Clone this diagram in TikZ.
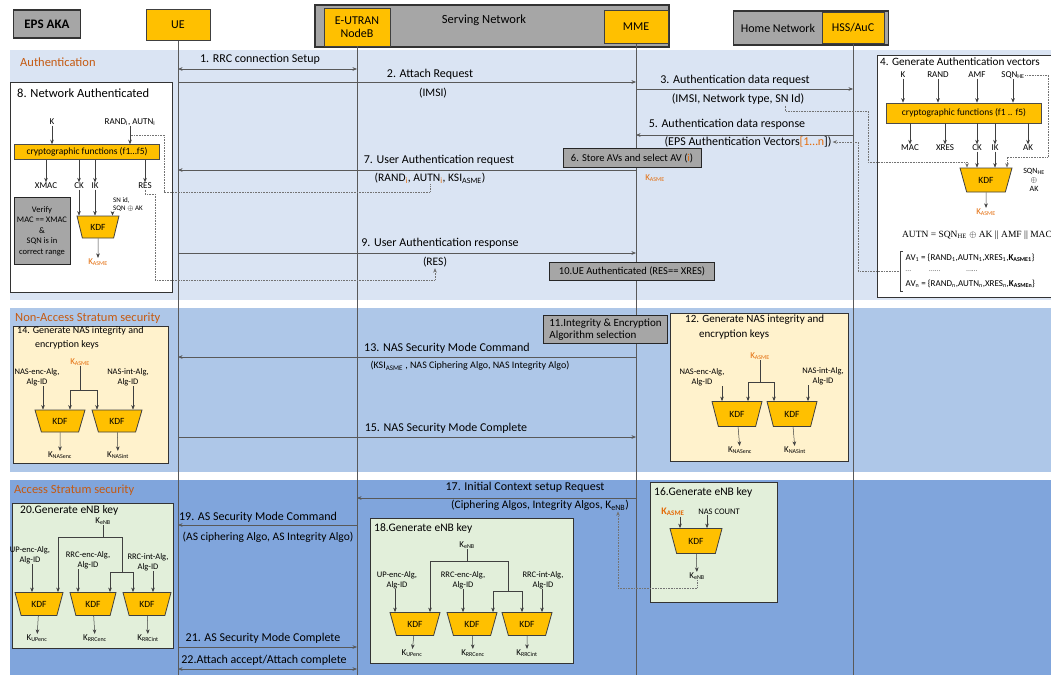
\documentclass[tikz,border=0pt]{standalone}
\usepackage{fontspec}
\setmainfont{Carlito}
\newfontfamily\eqfont{Liberation Serif}
\usetikzlibrary{arrows.meta,positioning,calc,shapes.geometric}
\definecolor{amber}{HTML}{FFC000}
\definecolor{keyorange}{HTML}{E46C0A}
\definecolor{secbrown}{HTML}{C55A11}
\definecolor{hdrgray}{HTML}{A6A6A6}
\definecolor{authband}{HTML}{DAE4F3}
\definecolor{nasband}{HTML}{AEC7E8}
\definecolor{asband}{HTML}{80A5DC}
\definecolor{cream}{HTML}{FFF2CC}
\definecolor{palegreen}{HTML}{E2EFDA}
\newcommand{\ksub}[1]{K\textsubscript{#1}}
\newcommand{\kasme}{\textcolor{keyorange}{\ksub{ASME}}}

\begin{document}
\begin{tikzpicture}[x=1pt,y=-1pt,>={Stealth[length=4.5pt,width=3.6pt]},
  font=\fontsize{12}{14}\selectfont,
  actor/.style={draw=black!75,line width=0.9pt,fill=amber,minimum width=64,minimum height=31,align=center,font=\fontsize{12}{13}\selectfont},
  netgroup/.style={draw=black!80,line width=1.3pt,fill=hdrgray},
  life/.style={draw=black!65,line width=0.5pt},
  msg/.style={->,draw=black!65,line width=0.5pt},
  twoway/.style={<->,draw=black!65,line width=0.5pt},
  lbl/.style={inner sep=1pt},
  param/.style={inner sep=1pt,font=\fontsize{11.5}{13}\selectfont},
  note/.style={draw=black!85,line width=1pt,fill=hdrgray,inner sep=2pt,font=\fontsize{10.5}{12}\selectfont},
  panel/.style={draw=black!80,line width=1pt,anchor=north west,inner sep=0},
  ptitle/.style={anchor=west,inner sep=0,font=\fontsize{12.5}{14}\selectfont},
  sect/.style={anchor=west,inner sep=0,text=secbrown,font=\fontsize{12.5}{14}\selectfont},
  cf/.style={draw=black!70,fill=amber,line width=0.6pt,inner sep=0,font=\fontsize{9.5}{11}\selectfont},
  kdf/.style={trapezium,trapezium left angle=110,trapezium right angle=110,trapezium stretches=true,draw=black!75,line width=0.8pt,fill=amber,minimum width=50,minimum height=23,inner sep=1pt,font=\fontsize{9.5}{11}\selectfont},
  lab/.style={inner sep=0.5pt,font=\fontsize{9}{10}\selectfont,align=center},
  alg/.style={inner sep=0.5pt,font=\fontsize{8.5}{10}\selectfont,align=center},
  wire/.style={draw=black!75,line width=0.5pt},
  feed/.style={draw=black!55,densely dotted,line width=0.6pt}]
\useasboundingbox (0,0) rectangle (1051,675);
\fill[white] (0,0) rectangle (1051,675);
\fill[authband] (10,50) rectangle (1051,300);
\fill[nasband] (10,308) rectangle (1051,472);
\fill[asband] (10,480) rectangle (1051,675);

\node[netgroup,minimum width=67,minimum height=28,font=\bfseries\fontsize{13}{15}\selectfont] (eps) at (47,24) {EPS AKA};
\node[netgroup,minimum width=354,minimum height=42] (sn) at (492,26) {};
\node[font=\fontsize{12.5}{14}\selectfont] (snlabel) at (484,20) {Serving Network};
\node[netgroup,minimum width=155,minimum height=34] (hn) at (811,28) {};
\node[font=\fontsize{12}{14}\selectfont] (hnlabel) at (778,28) {Home Network};
\node[actor] (ue) at (178,25) {UE};
\node[actor,minimum width=66,minimum height=38] (enb) at (357,27) {E-UTRAN\\NodeB};
\node[actor,minimum height=33] (mme) at (636,27) {MME};
\node[actor,minimum width=62] (hss) at (853,28) {HSS/AuC};

\draw[life] (ue.south) -- (ue |- 0,675);
\draw[life] (enb.south) -- (enb |- 0,675);
\draw[life] (mme.south) -- (mme |- 0,675);
\draw[life] (hss.south) -- (hss |- 0,675);

\node[sect] (auth) at (20,62) {Authentication};
\node[sect] (nas) at (15,318) {Non-Access Stratum security};
\node[sect] (as) at (14,490) {Access Stratum security};

\draw[twoway] (ue |- 0,69) -- (enb |- 0,69);
\node[lbl] (l1) at (260,59) {1. RRC connection Setup};
\draw[msg] (ue |- 0,82) -- (mme |- 0,82);
\node[lbl] (l2) at (430,74) {2. Attach Request};
\node[param] (p2) at (433,93) {(IMSI)};
\draw[msg] (mme |- 0,89) -- (hss |- 0,89);
\node[lbl] (l3) at (735,80) {3. Authentication data request};
\node[lbl] (p3) at (738,99) {(IMSI, Network type, SN Id)};
\draw[msg] (hss |- 0,135) -- (mme |- 0,135);
\node[lbl] (l5) at (727,124) {5. Authentication data response};
\node[lbl] (p5) at (748,142) {(EPS Authentication Vectors\textcolor{keyorange}{[1\ldots n}])};
\node[note,minimum width=138,minimum height=19] (s6) at (632,158) {6. Store AVs and select AV (\textcolor{keyorange}{i})};
\node[lab] (k6) at (655,178) {\kasme};
\draw[msg] (mme |- 0,170) -- (ue |- 0,170);
\node[lbl] (l7) at (439,160) {7. User Authentication request};
\node[param] (p7) at (430,178) {(RAND\textsubscript{\textcolor{keyorange}{i}}, AUTN\textsubscript{\textcolor{keyorange}{i}}, KSI\textsubscript{ASME})};
\draw[msg] (ue |- 0,253) -- (mme |- 0,253);
\node[lbl] (l9) at (440,243) {9. User Authentication response};
\node[param] (p9) at (435,262) {(RES)};
\node[note,minimum width=165,minimum height=18] (s10) at (632,271) {10.UE Authenticated (RES== XRES)};

\node[panel,fill=white,minimum width=162,minimum height=210] (p8) at (10,82) {};
\node[ptitle] (t8) at (17,93) {8. Network Authenticated};
\node[lab] (k8) at (52,122) {K};
\node[lab] (ra8) at (130,122) {RAND\textsubscript{i}, AUTN\textsubscript{i}};
\node[cf,minimum width=145,minimum height=15] (cf8) at (87,152) {cryptographic functions (f1\ldots f5)};
\draw[wire,->] (k8) -- (k8 |- cf8.north);
\draw[wire,->] (ra8) -- (ra8 |- cf8.north);
\node[lab] (xm8) at (46,186) {XMAC};
\node[lab] (ck8) at (79,186) {CK};
\node[lab] (ik8) at (95,186) {IK};
\node[lab] (res8) at (145,186) {RES};
\draw[wire,->] (cf8.south -| xm8) -- (xm8);
\draw[wire,->] (cf8.south -| ck8) -- (ck8);
\draw[wire,->] (cf8.south -| ik8) -- (ik8);
\draw[wire,->] (cf8.south -| res8) -- (res8);
\node[note,minimum width=56,minimum height=67,align=center,font=\fontsize{8.5}{10.5}\selectfont] (v8) at (42,231) {Verify\\MAC == XMAC\\\&\\SQN is in\\correct range};
\node[kdf,minimum width=42,minimum height=22] (kdf8) at (98,227) {KDF};
\draw[wire,->] (ck8) -- (ck8 |- kdf8.north);
\draw[wire,->] (ik8) -- (ik8 |- kdf8.north);
\node[lab,align=left,font=\fontsize{7}{8}\selectfont] (sn8) at (128,205) {SN id,\\SQN $\oplus$ AK};
\draw[wire,->] (sn8.south west) -- (sn8.south west |- kdf8.north);
\node[lab] (ka8) at (98,262) {\kasme};
\draw[wire,->] (kdf8) -- (ka8);
\draw[feed] (p7.south) -- (p7.south |- 0,192) -| (164,135) -- (ra8 |- 0,135);
\draw[feed,->] (res8.south) -- (res8.south |- 0,194) -| (155,280) -| (p9.south);

\node[panel,fill=white,minimum width=185,minimum height=242] (p4) at (877,55) {};
\node[ptitle,font=\fontsize{11.2}{13}\selectfont] (t4) at (880,62) {4. Generate Authentication vectors};
\node[lab] (ki4) at (903,75) {K};
\node[lab] (ri4) at (938,75) {RAND};
\node[lab] (ai4) at (977,75) {AMF};
\node[lab] (si4) at (1013,75) {SQN\textsubscript{HE}};
\node[cf,minimum width=155,minimum height=20] (cf4) at (964,113) {cryptographic functions (f1 .. f5)};
\draw[wire,->] (ki4) -- (ki4 |- cf4.north);
\draw[wire,->] (ri4) -- (ri4 |- cf4.north);
\draw[wire,->] (ai4) -- (ai4 |- cf4.north);
\draw[wire,->] (si4) -- (si4 |- cf4.north);
\node[lab] (mo4) at (910,148) {MAC};
\node[lab] (xo4) at (945,148) {XRES};
\node[lab] (ck4) at (977,148) {CK};
\node[lab] (ik4) at (995,148) {IK};
\node[lab] (ak4) at (1028,148) {AK};
\draw[wire,->] (cf4.south -| mo4) -- (mo4);
\draw[wire,->] (cf4.south -| xo4) -- (xo4);
\draw[wire,->] (cf4.south -| ck4) -- (ck4);
\draw[wire,->] (cf4.south -| ik4) -- (ik4);
\draw[wire,->] (cf4.south -| ak4) -- (ak4);
\node[kdf,minimum width=52,minimum height=24] (kdf4) at (986,180) {KDF};
\draw[wire,->] (ck4) -- (ck4 |- kdf4.north);
\draw[wire,->] (ik4) -- (ik4 |- kdf4.north);
\node[lab,font=\fontsize{8}{9}\selectfont] (sq4) at (1034,180) {SQN\textsubscript{HE}\\$\oplus$\\AK};
\node[lab] (ka4) at (986,212) {\kasme};
\draw[wire,->] (kdf4) -- (ka4);
\node[lab,font=\eqfont\fontsize{9.5}{11}\selectfont] (eq4) at (977,235) {AUTN = SQN\textsubscript{HE} $\oplus$ AK || AMF || MAC};
\node[lab,anchor=west,font=\fontsize{9}{10}\selectfont] (av1) at (905,258) {AV\textsubscript{1} = \{RAND\textsubscript{1},AUTN\textsubscript{1},XRES\textsubscript{1},\textbf{K\textsubscript{ASME1}}\}};
\node[lab,anchor=west,text=black!55,font=\fontsize{8}{9}\selectfont] (avd) at (905,271) {\ldots\hspace{18pt}\ldots\ldots\hspace{26pt}\ldots\ldots};
\node[lab,anchor=west,font=\fontsize{9}{10}\selectfont] (avn) at (905,284) {AV\textsubscript{n} = \{RAND\textsubscript{n},AUTN\textsubscript{n},XRES\textsubscript{n},\textbf{K\textsubscript{ASMEn}}\}};
\draw[wire] (903,251) -- (900,251) -- (900,291) -- (903,291);
\coordinate (avb) at (899,271);
\draw[feed,->] ($(p3.south)!0.7!(p3.south east)$) |- (868,111) |- (967,162) -- (967,0 |- kdf4.north);
\draw[feed,->] (si4.east) -| (1048,157) -| (1007,0 |- kdf4.north);
\draw[feed,->] (avb) -| (858,142) -- (p5.east);

\node[panel,fill=cream,minimum width=155,minimum height=137] (p14) at (13,326) {};
\node[anchor=north west,align=left,inner sep=0,font=\fontsize{10}{14}\selectfont] (t14) at (17,326) {14. Generate NAS integrity and\\\hspace*{18pt}encryption keys};
\node[lab] (ka14) at (80,362) {\kasme};
\node[alg] (ea14) at (37,377) {NAS-enc-Alg,\\Alg-ID};
\node[alg] (ia14) at (128,377) {NAS-int-Alg,\\Alg-ID};
\node[kdf,minimum height=22] (kdf14a) at (60,421) {KDF};
\node[kdf,minimum height=22] (kdf14b) at (117,421) {KDF};
\draw[wire,->] (ka14.south) |- (70,390) -- (70,0 |- kdf14a.north);
\draw[wire,->] (ka14.south) |- (97,390) -- (97,0 |- kdf14b.north);
\draw[wire,->] (43,0 |- ea14.south) -- (43,0 |- kdf14a.north);
\draw[wire,->] (133,0 |- ia14.south) -- (133,0 |- kdf14b.north);
\node[lab] (ne14) at (60,455) {\ksub{NASenc}};
\node[lab] (ni14) at (118,455) {\ksub{NASint}};
\draw[wire,->] (kdf14a) -- (ne14);
\draw[wire,->] (kdf14b) -- (ni14);

\draw[msg] (mme |- 0,357) -- (ue |- 0,357);
\node[lbl] (l13) at (447,348) {13. NAS Security Mode Command};
\node[param,font=\fontsize{10}{11}\selectfont] (p13) at (470,366) {(KSI\textsubscript{ASME} , NAS Ciphering Algo, NAS Integrity Algo)};
\node[note,anchor=north west,align=left,minimum width=124,minimum height=28,font=\fontsize{11}{12.5}\selectfont] (s11) at (543,315) {11.Integrity \& Encryption\\Algorithm selection};
\draw[msg] (ue |- 0,437) -- (mme |- 0,437);
\node[lbl] (l15) at (446,428) {15. NAS Security Mode Complete};

\node[panel,fill=cream,minimum width=178,minimum height=148] (p12) at (670,313) {};
\node[anchor=north west,align=left,inner sep=0,font=\fontsize{11}{15}\selectfont] (t12) at (685,315) {12. Generate NAS integrity and\\\hspace*{14pt}encryption keys};
\node[lab] (ka12) at (760,356) {\kasme};
\node[alg] (ea12) at (702,377) {NAS-enc-Alg,\\Alg-ID};
\node[alg] (ia12) at (823,376) {NAS-int-Alg,\\Alg-ID};
\node[kdf,minimum height=25] (kdf12a) at (737,414) {KDF};
\node[kdf,minimum height=25] (kdf12b) at (792,414) {KDF};
\draw[wire,->] (ka12.south) |- (748,382) -- (748,0 |- kdf12a.north);
\draw[wire,->] (ka12.south) |- (774,382) -- (774,0 |- kdf12b.north);
\draw[wire,->] (722,0 |- ea12.south) -- (722,0 |- kdf12a.north);
\draw[wire,->] (808,0 |- ia12.south) -- (808,0 |- kdf12b.north);
\node[lab] (ne12) at (740,450) {\ksub{NASenc}};
\node[lab] (ni12) at (795,450) {\ksub{NASint}};
\draw[wire,->] (kdf12a) -- (ne12);
\draw[wire,->] (kdf12b) -- (ni12);

\draw[msg] (mme |- 0,498) -- (enb |- 0,498);
\node[lbl] (l17) at (525,487) {17. Initial Context setup Request};
\node[param] (p17) at (540,505) {(Ciphering Algos, Integrity Algos, \ksub{eNB})};

\node[panel,fill=palegreen,minimum width=127,minimum height=120] (p16) at (650,482) {};
\node[ptitle,font=\fontsize{11.5}{13}\selectfont] (t16) at (654,492) {16.Generate eNB key};
\node[lab,font=\bfseries\fontsize{10}{11}\selectfont] (ka16) at (673,512) {\kasme};
\node[lab,font=\fontsize{8.5}{10}\selectfont] (nc16) at (719,512) {NAS COUNT};
\node[kdf,minimum width=52,minimum height=25] (kdf16) at (696,541) {KDF};
\draw[wire,->] (680,0 |- ka16.south) -- (680,0 |- kdf16.north);
\draw[wire,->] (707,0 |- nc16.south) -- (707,0 |- kdf16.north);
\node[lab] (ke16) at (697,576) {\ksub{eNB}};
\draw[wire,->] (kdf16) -- (ke16);
\draw[feed,->] (ke16.south) |- (618,588) -- (618,0 |- p17.south);

\draw[msg] (enb |- 0,525) -- (ue |- 0,525);
\node[lbl] (l19) at (258,517) {19. AS Security Mode Command};
\node[param] (p19) at (268,537) {(AS ciphering Algo, AS Integrity Algo)};

\node[panel,fill=palegreen,minimum width=203,minimum height=145] (p18) at (370,518) {};
\node[ptitle,font=\fontsize{11.5}{13}\selectfont] (t18) at (374,528) {18.Generate eNB key};
\node[lab] (ke18) at (467,545) {\ksub{eNB}};
\node[alg] (ua18) at (397,580) {UP-enc-Alg,\\Alg-ID};
\node[alg] (ra18) at (463,580) {RRC-enc-Alg,\\Alg-ID};
\node[alg] (ia18) at (543,580) {RRC-int-Alg,\\Alg-ID};
\node[kdf] (kdf18a) at (415,624) {KDF};
\node[kdf] (kdf18b) at (472,624) {KDF};
\node[kdf] (kdf18c) at (527,624) {KDF};
\coordinate (j18) at (508,591);
\draw[wire,->] (ke18.south) |- (430,561) -- (430,0 |- kdf18a.north);
\draw[wire] (ke18.south) |- (508,561) -- (j18);
\draw[wire,->] (j18) -| (493,0 |- kdf18b.north);
\draw[wire,->] (j18) -| (522,0 |- kdf18c.north);
\draw[wire,->] (395,0 |- ua18.south) -- (395,0 |- kdf18a.north);
\draw[wire,->] (463,0 |- ra18.south) -- (463,0 |- kdf18b.north);
\draw[wire,->] (542,0 |- ia18.south) -- (542,0 |- kdf18c.north);
\node[lab] (o18a) at (412,653) {\ksub{UPenc}};
\node[lab] (o18b) at (473,653) {\ksub{RRCenc}};
\node[lab] (o18c) at (527,653) {\ksub{RRCint}};
\draw[wire,->] (kdf18a) -- (o18a);
\draw[wire,->] (kdf18b) -- (o18b);
\draw[wire,->] (kdf18c) -- (o18c);

\node[panel,fill=palegreen,minimum width=161,minimum height=145] (p20) at (12,503) {};
\node[ptitle,font=\fontsize{11.5}{13}\selectfont] (t20) at (20,510) {20.Generate eNB key};
\node[lab] (ke20) at (103,521) {\ksub{eNB}};
\node[alg] (ua20) at (30,555) {UP-enc-Alg,\\Alg-ID};
\node[alg] (ra20) at (88,560) {RRC-enc-Alg,\\Alg-ID};
\node[alg] (ia20) at (148,562) {RRC-int-Alg,\\Alg-ID};
\node[kdf,minimum width=48] (kdf20a) at (39,604) {KDF};
\node[kdf,minimum width=46] (kdf20b) at (93,604) {KDF};
\node[kdf,minimum width=48] (kdf20c) at (147,604) {KDF};
\coordinate (j20) at (122,572);
\draw[wire,->] (ke20.south) |- (58,537) -- (58,0 |- kdf20a.north);
\draw[wire] (ke20.south) |- (122,537) -- (j20);
\draw[wire,->] (j20) -| (110,0 |- kdf20b.north);
\draw[wire,->] (j20) -| (133,0 |- kdf20c.north);
\draw[wire,->] (32,0 |- ua20.south) -- (32,0 |- kdf20a.north);
\draw[wire,->] (78,0 |- ra20.south) -- (78,0 |- kdf20b.north);
\draw[wire,->] (153,0 |- ia20.south) -- (153,0 |- kdf20c.north);
\node[lab] (o20a) at (37,638) {\ksub{UPenc}};
\node[lab] (o20b) at (95,638) {\ksub{RRCenc}};
\node[lab] (o20c) at (148,638) {\ksub{RRCint}};
\draw[wire,->] (kdf20a) -- (o20a);
\draw[wire,->] (kdf20b) -- (o20b);
\draw[wire,->] (kdf20c) -- (o20c);

\draw[msg] (ue |- 0,647) -- (enb |- 0,647);
\node[lbl] (l21) at (263,638) {21. AS Security Mode Complete};
\draw[twoway] (ue |- 0,669) -- (enb |- 0,669);
\node[lbl] (l22) at (264,660) {22.Attach accept/Attach complete};
\end{tikzpicture}
\end{document}
